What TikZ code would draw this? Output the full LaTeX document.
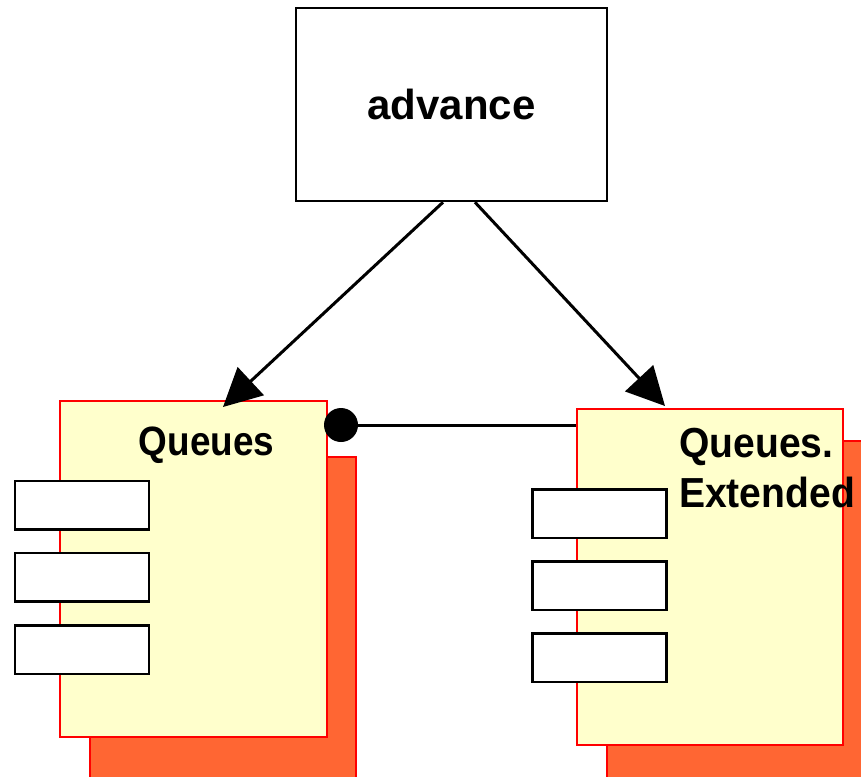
\documentclass[tikz,border=0pt]{standalone}
\usepackage{fontspec}
\setmainfont{Liberation Sans}
\newfontfamily\labelfont[FakeStretch=0.9]{Liberation Sans}
\newfontfamily\widelabelfont[FakeStretch=0.93]{Liberation Sans}
\usetikzlibrary{arrows.meta,calc}
\definecolor{compfill}{HTML}{FFFFCC}
\definecolor{compshadow}{HTML}{FF6633}
\definecolor{compedge}{HTML}{FF0000}
\begin{document}
\begin{tikzpicture}[x=1pt,y=-1pt,
  box/.style={draw=black,line width=2.5pt,fill=white,inner sep=0pt,
    minimum width=311pt,minimum height=193pt},
  body/.style={draw=compedge,line width=2pt,fill=compfill,inner sep=0pt,
    minimum width=267pt,minimum height=336pt},
  shade/.style={draw=compedge,line width=2pt,fill=compshadow,inner sep=0pt,
    minimum width=266pt,minimum height=336pt},
  port/.style={draw=black,line width=2.5pt,fill=white,inner sep=0pt,
    minimum width=134pt,minimum height=48.5pt},
  dep/.style={line width=3pt,-{Triangle[length=38pt,width=38pt]}},
  title/.style={font=\labelfont\bfseries\fontsize{41}{50}\selectfont,inner sep=0pt}]
\useasboundingbox (0,0) rectangle (861,776);

% top package
\node[box,font=\bfseries\fontsize{42}{50}\selectfont] (adv) at (451.5,104.5) {advance};

% left component: shadow, body, ports
\node[shade] (qas) at (223,625) {};
\node[body] (qa) at (193.5,569) {};
\node[port] (qa1) at (82,505) {};
\node[port] (qa2) at (82,577) {};
\node[port] (qa3) at (82,649.5) {};
\node[title,anchor=base] (qat) at (206.5,455) {Queues};

% right component: shadow, body, ports
\node[shade,minimum height=345pt] (qbs) at (740,613.5) {};
\node[body,minimum width=266pt] (qb) at (710,577) {};
\node[port] (qb1) at (599.5,513.5) {};
\node[port] (qb2) at (599.5,585.5) {};
\node[port] (qb3) at (599.5,657.5) {};
\node[title,font=\widelabelfont\bfseries\fontsize{42}{50}\selectfont,
  anchor=base west,align=left] (qbt) at (679,507) {Queues.\\Extended};

% dependencies from the package
\draw[dep] ($(adv.south)+(-8.5,0)$) -- ($(qa.north)+(29.5,7)$);
\draw[dep] ($(adv.south)+(23.5,0)$) -- ($(qb.north)+(-45,-2)$);

% association with a filled end
\coordinate (dot) at (341,425);
\draw[line width=3pt] (dot) -- (qb.west |- dot);
\fill[black] (dot) circle (17pt);
\end{tikzpicture}
\end{document}
